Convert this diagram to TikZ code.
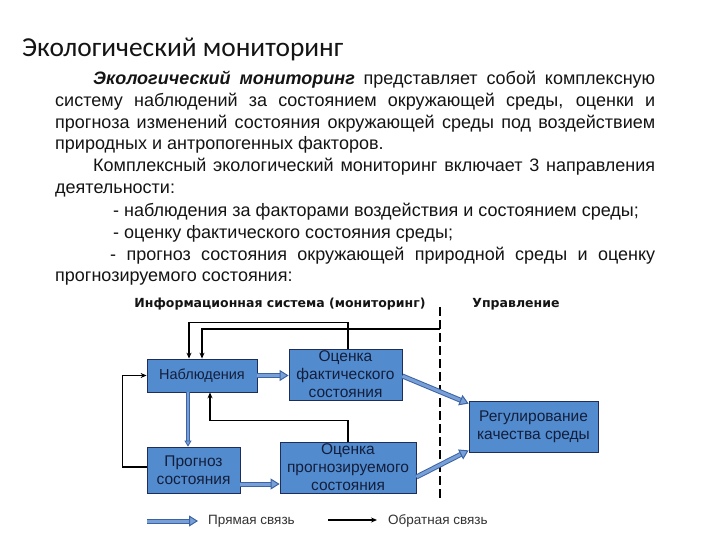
\documentclass[tikz,border=0pt]{standalone}
\usepackage{fontspec}
\setmainfont{Liberation Sans}
\newfontfamily\titlefont{Carlito}
\newfontfamily\hdrfont{DejaVu Sans}
\usetikzlibrary{arrows.meta}
\definecolor{boxblue}{RGB}{82,140,206}
\definecolor{boxline}{RGB}{30,45,90}
\definecolor{fwdblue}{RGB}{60,100,165}
\definecolor{fwdfill}{RGB}{120,160,215}
\definecolor{txt}{RGB}{20,20,20}
\definecolor{boxtxt}{RGB}{20,30,60}
\definecolor{legtxt}{RGB}{50,50,50}
\begin{document}
\begin{tikzpicture}[x=1pt,y=-1pt,
  box/.style={draw=boxline, line width=0.8pt, fill=boxblue, inner sep=0pt, align=center,
    font=\fontsize{15.5}{18}\selectfont, text=boxtxt},
  fwd/.style={line width=1pt, draw=fwdblue, double=fwdfill, double distance=3pt,
    -{Triangle[length=9pt,width=11pt,fill=fwdfill]}},
  fwdthin/.style={line width=0.8pt, draw=fwdblue, double=fwdfill, double distance=1.5pt,
    -{Triangle[length=6pt,width=7pt,fill=fwdfill]}},
  fb/.style={line width=1.2pt, draw=black, -{Stealth[length=6pt,width=5pt]}},
  para/.style={anchor=base west, inner sep=0pt, font=\fontsize{18}{20}\selectfont, text=txt},
  hdr/.style={inner sep=0pt, font=\hdrfont\bfseries\fontsize{12.5}{14}\selectfont, text=txt},
  legend/.style={inner sep=0pt, anchor=west, font=\fontsize{13.5}{15}\selectfont, text=legtxt},
  dashline/.style={line width=2pt, dash pattern=on 9pt off 4pt}
]
\useasboundingbox (0,0) rectangle (720,540);
\fill[white] (0,0) rectangle (720,540);

% title
\node[anchor=base west, inner sep=0pt, font=\titlefont\fontsize{27.4}{30}\selectfont, text=txt] (title) at (22,57) {Экологический мониторинг};

% paragraph
\node[para] (p1) at (93,85) {\makebox[562pt][s]{\textbf{\textit{Экологический мониторинг}} представляет собой комплексную}};
\node[para] (p2) at (55,107) {\makebox[600pt][s]{систему наблюдений за состоянием окружающей среды, оценки и}};
\node[para] (p3) at (55,129) {\makebox[600pt][s]{прогноза изменений состояния окружающей среды под воздействием}};
\node[para] (p4) at (55,150) {природных и антропогенных факторов.};
\node[para] (p5) at (93,172) {\makebox[562pt][s]{Комплексный экологический мониторинг включает 3 направления}};
\node[para] (p6) at (55,194) {деятельности:};
\node[para] (p7) at (113,216) {- наблюдения за факторами воздействия и состоянием среды;};
\node[para] (p8) at (113,238) {- оценку фактического состояния среды;};
\node[para] (p9) at (110,260) {\makebox[545pt][s]{- прогноз состояния окружающей природной среды и оценку}};
\node[para] (p10) at (55,281) {прогнозируемого состояния:};

% headers
\node[hdr] (h1) at (280,304) {Информационная система (мониторинг)};
\node[hdr] (h2) at (516,304) {Управление};

% dashed separator
\coordinate (dtop) at (440,307);
\coordinate (dbot) at (440,500);
\draw[dashline] (dtop) -- (dbot);

% boxes
\node[box, minimum width=110pt, minimum height=33pt, font=\fontsize{14.5}{18}\selectfont] (nab) at (202,375.5) {Наблюдения};
\node[box, minimum width=113pt, minimum height=51pt] (ofs) at (345.5,374.5) {Оценка\\фактического\\состояния};
\node[box, minimum width=93pt, minimum height=46pt] (pro) at (193.5,470) {Прогноз\\состояния};
\node[box, minimum width=136pt, minimum height=51pt] (opr) at (348,467.5) {Оценка\\прогнозируемого\\состояния};
\node[box, minimum width=129pt, minimum height=51pt] (reg) at (533.5,426.5) {Регулирование\\качества среды};

% forward links
\draw[fwd] (nab.east) -- (nab.east -| ofs.west);
\draw[fwdthin] ([xshift=-14pt]nab.south) -- ([xshift=-14pt]nab.south |- pro.north);
\draw[fwd] ([yshift=-14pt]pro.east) -- ([yshift=-14pt]pro.east -| opr.west);
\draw[fwd] ([yshift=-1.5pt]ofs.east) -- ([yshift=-3pt]reg.north west);
\draw[fwd] ([yshift=-9.5pt]opr.east) -- ([yshift=2pt]reg.south west);

% feedback links
\coordinate (fbin) at (440,329);
\draw[fb] ([xshift=2.5pt]ofs.north) -- ++(0,-26) -| ([xshift=-13pt]nab.north);
\draw[fb] (fbin) -| (nab.north);
\draw[fb] (opr.north) -- ++(0,-21) -| ([xshift=8pt]nab.south);
\draw[fb] ([yshift=3pt]pro.west) -- ++(-24,0) |- (nab.west);

% legend
\coordinate (l1a) at (147,521);
\coordinate (l1b) at (198,521);
\draw[fwd] (l1a) -- (l1b);
\node[legend] (lt1) at (208,521) {Прямая связь};
\coordinate (l2a) at (328,520);
\coordinate (l2b) at (377,520);
\draw[fb] (l2a) -- (l2b);
\node[legend] (lt2) at (388,521) {Обратная связь};
\end{tikzpicture}
\end{document}
